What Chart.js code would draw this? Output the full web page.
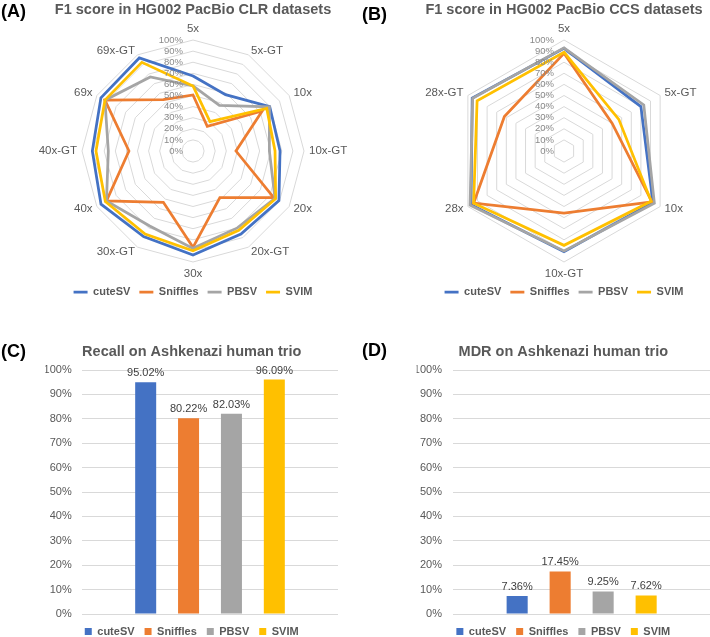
<!DOCTYPE html>
<html>
<head>
<meta charset="utf-8">
<script src="https://cdn.jsdelivr.net/npm/chart.js@4.4.1/dist/chart.umd.min.js"></script>
<style>
  html, body { margin: 0; padding: 0; background: #ffffff; }
  body { width: 710px; height: 637px; overflow: hidden; position: relative; }
  .panel { position: absolute; }
  .tag { position: absolute; font-family: "Liberation Sans", Arial, sans-serif; font-weight: bold; font-size: 18px; line-height: 20px; color: #000; }
</style>
</head>
<body>
<div class="panel" style="left:0;top:0;"><canvas id="ca" width="355" height="310"></canvas></div>
<div class="panel" style="left:355px;top:0;"><canvas id="cb" width="355" height="310"></canvas></div>
<div class="panel" style="left:0;top:315px;"><canvas id="cc" width="355" height="332"></canvas></div>
<div class="panel" style="left:355px;top:315px;"><canvas id="cd" width="355" height="332"></canvas></div>
<div class="tag" style="left:1px;top:1px;">(A)</div>
<div class="tag" style="left:362px;top:4px;">(B)</div>
<div class="tag" style="left:1px;top:341px;">(C)</div>
<div class="tag" style="left:362px;top:340px;">(D)</div>
<script>
// ---------- data ----------
const toolNames = ['cuteSV', 'Sniffles', 'PBSV', 'SVIM'];
const toolColors = ['#4472C4', '#ED7D31', '#A5A5A5', '#FFC000'];
const radialTickLabels = ['0%', '10%', '20%', '30%', '40%', '50%', '60%', '70%', '80%', '90%', '100%'];
const radialTickValues = [0, 10, 20, 30, 40, 50, 60, 70, 80, 90, 100];

// (A) CLR datasets
const clrCategories = ['5x', '5x-GT', '10x', '10x-GT', '20x', '20x-GT', '30x', '30x-GT', '40x', '40x-GT', '69x', '69x-GT'];
const clrCuteSV   = [67.6, 58.6, 79.8, 78.4, 89.4, 86.4, 93.7, 89.0, 95.7, 90.7, 95.8, 96.8];
const clrSniffles = [50.5, 25.7, 72.0, 38.7, 84.0, 48.4, 86.8, 53.4, 90.0, 57.7, 91.6, 53.5];
const clrPBSV     = [58.6, 47.5, 79.5, 68.8, 85.3, 80.0, 87.7, 78.0, 90.0, 76.3, 91.6, 77.0];
const clrSVIM     = [58.6, 30.6, 76.7, 73.9, 86.0, 82.4, 89.8, 86.3, 91.2, 87.4, 91.6, 92.2];

// (B) CCS datasets
const ccsCategories = ['5x', '5x-GT', '10x', '10x-GT', '28x', '28x-GT'];
const ccsCuteSV   = [92.5, 80.0, 92.5, 90.7, 96.7, 95.5];
const ccsSniffles = [88.0, 50.0, 91.5, 56.0, 94.0, 62.0];
const ccsPBSV     = [93.0, 83.0, 94.0, 90.0, 97.7, 95.0];
const ccsSVIM     = [89.0, 57.0, 90.7, 85.0, 94.0, 90.4];

// (C) Recall, (D) MDR
const recallValues = [95.02, 80.22, 82.03, 96.09];
const mdrValues    = [7.36, 17.45, 9.25, 7.62];

// ---------- styling helpers ----------
const FONT = '"Liberation Sans", Arial, sans-serif';
Chart.defaults.font.family = FONT;

const radarText = {
  id: 'radarText',
  afterDatasetsDraw(chart) {
    const s = chart.scales.r;
    const ctx = chart.ctx;
    ctx.save();
    ctx.font = '9.5px ' + FONT;
    ctx.fillStyle = '#8a8a8a';
    ctx.textAlign = 'right';
    ctx.textBaseline = 'middle';
    radialTickValues.forEach((v, i) => {
      const d = s.getDistanceFromCenterForValue(v);
      ctx.fillText(radialTickLabels[i], s.xCenter - 10, s.yCenter - d);
    });
    ctx.font = '11.5px ' + FONT;
    ctx.fillStyle = '#595959';
    const labels = chart.data.labels;
    const n = labels.length;
    labels.forEach((lab, i) => {
      const p = s.getPointPosition(i, s.drawingArea + 5);
      const a = (i / n) * 2 * Math.PI;
      const sx = Math.sin(a), cy = Math.cos(a);
      let x = p.x, y = p.y;
      if (Math.abs(sx) < 1e-6) { ctx.textAlign = 'center'; }
      else if (sx > 0) { ctx.textAlign = 'left'; }
      else { ctx.textAlign = 'right'; }
      if (Math.abs(sx) < 1e-6) {
        if (cy > 0) { y -= 6.5; } else { y += 6.5; }
      }
      ctx.textBaseline = 'middle';
      ctx.fillText(lab, x, y);
    });
    ctx.restore();
  }
};

const barValueLabels = {
  id: 'barValueLabels',
  afterDatasetsDraw(chart) {
    const ctx = chart.ctx;
    ctx.save();
    ctx.font = '11px ' + FONT;
    ctx.fillStyle = '#404040';
    ctx.textAlign = 'center';
    ctx.textBaseline = 'middle';
    chart.data.datasets.forEach((ds, di) => {
      const meta = chart.getDatasetMeta(di);
      meta.data.forEach((bar, j) => {
        ctx.fillText(ds.data[j].toFixed(2) + '%', bar.x, bar.y - 9);
      });
    });
    ctx.restore();
  }
};

function radarDatasets(series) {
  return series.map((vals, i) => ({
    label: toolNames[i],
    data: vals,
    borderColor: toolColors[i],
    backgroundColor: toolColors[i],
    borderWidth: 2.75,
    fill: false,
    pointRadius: 0,
    pointHoverRadius: 0,
    pointStyle: 'line',
    borderJoinStyle: 'miter',
    order: 4 - i
  }));
}

function radarOptions(title, padL) {
  return {
    responsive: false,
    animation: false,
    devicePixelRatio: 1,
    layout: { padding: { left: padL, right: 0, top: 0, bottom: 2.5 } },
    plugins: {
      title: {
        display: true, text: title, color: '#595959',
        font: { family: FONT, size: 14.5, weight: 'bold', lineHeight: 1.2 },
        padding: { top: 1.3, bottom: 21.3 }
      },
      legend: {
        position: 'bottom',
        title: { display: true, text: '', font: { size: 10, lineHeight: 1.55 }, padding: 0 },
        labels: {
          usePointStyle: true, pointStyleWidth: 14, padding: 9,
          color: '#595959', font: { family: FONT, size: 11, weight: 'bold' },
          sort: (a, b) => a.datasetIndex - b.datasetIndex
        }
      },
      tooltip: { enabled: false }
    },
    scales: {
      r: {
        min: 0, max: 100,
        ticks: { display: false, stepSize: 10 },
        grid: { color: '#d9d9d9', lineWidth: 1 },
        angleLines: { display: false },
        pointLabels: { display: false }
      }
    }
  };
}

function barDatasets(vals) {
  return vals.map((v, i) => ({
    label: toolNames[i],
    data: [v],
    backgroundColor: toolColors[i],
    borderWidth: 0,
    categoryPercentage: 0.67,
    barPercentage: 0.49
  }));
}

function barOptions(title, padL, padR, axisW, tickPad) {
  return {
    responsive: false,
    animation: false,
    devicePixelRatio: 1,
    layout: { padding: { left: padL, right: padR, top: 0, bottom: 0 } },
    plugins: {
      title: {
        display: true, text: title, color: '#595959',
        font: { family: FONT, size: 14.5, weight: 'bold', lineHeight: 1.2 },
        padding: { top: 28.3, bottom: 9.3 }
      },
      legend: {
        position: 'bottom',
        title: { display: true, text: '', font: { size: 1, lineHeight: 2 }, padding: 0 },
        labels: {
          boxWidth: 7, boxHeight: 7, padding: 10,
          color: '#595959', font: { family: FONT, size: 11, weight: 'bold' }
        }
      },
      tooltip: { enabled: false }
    },
    scales: {
      x: { display: false },
      y: {
        min: 0, max: 100,
        ticks: { stepSize: 10, padding: tickPad, color: '#595959', font: { family: FONT, size: 11 }, callback: v => v + '%' },
        grid: { color: '#d9d9d9', lineWidth: 1, drawTicks: false },
        border: { display: false },
        afterFit: s => { s.width = axisW; }
      }
    }
  };
}

new Chart(document.getElementById('ca'), {
  type: 'radar',
  data: { labels: clrCategories, datasets: radarDatasets([clrCuteSV, clrSniffles, clrPBSV, clrSVIM]) },
  options: radarOptions('F1 score in HG002 PacBio CLR datasets', 31),
  plugins: [radarText]
});

new Chart(document.getElementById('cb'), {
  type: 'radar',
  data: { labels: ccsCategories, datasets: radarDatasets([ccsCuteSV, ccsSniffles, ccsPBSV, ccsSVIM]) },
  options: radarOptions('F1 score in HG002 PacBio CCS datasets', 63),
  plugins: [radarText]
});

new Chart(document.getElementById('cc'), {
  type: 'bar',
  data: { labels: [''], datasets: barDatasets(recallValues) },
  options: barOptions('Recall on Ashkenazi human trio', 45.4, 17, 36.6, 10.3),
  plugins: [barValueLabels]
});

new Chart(document.getElementById('cd'), {
  type: 'bar',
  data: { labels: [''], datasets: barDatasets(mdrValues) },
  options: barOptions('MDR on Ashkenazi human trio', 61.6, 0, 36.7, 11.3),
  plugins: [barValueLabels]
});
</script>
</body>
</html>
